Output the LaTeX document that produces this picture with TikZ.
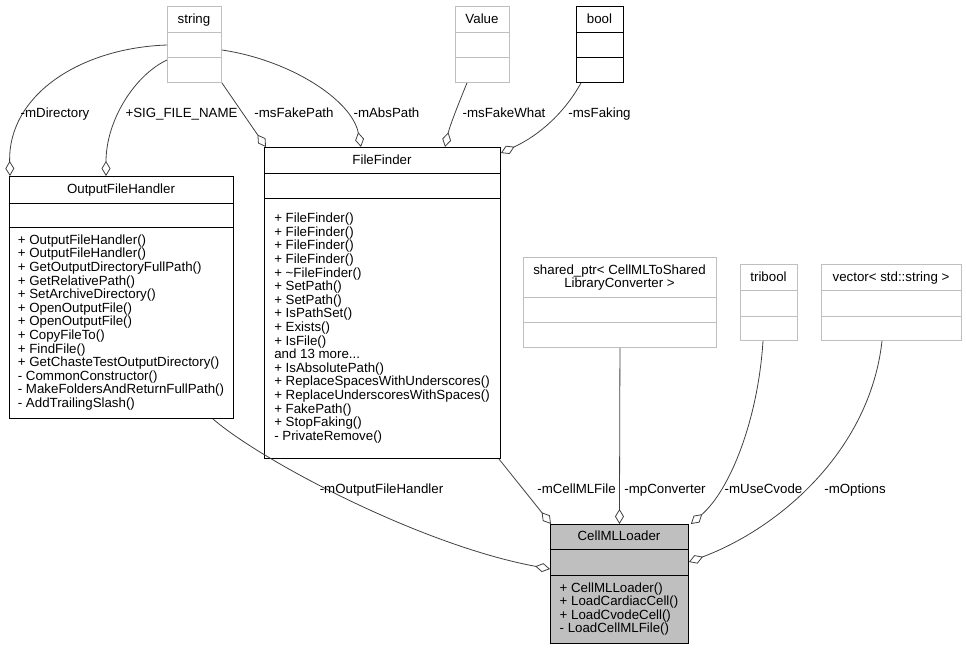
\documentclass[tikz,border=0pt]{standalone}
\usepackage{fontspec}
\setmainfont{Liberation Sans}
\usetikzlibrary{arrows.meta}
\definecolor{edgec}{HTML}{404040}
\definecolor{lgray}{HTML}{BFBFBF}
\definecolor{fillg}{HTML}{BFBFBF}
\begin{document}
\begin{tikzpicture}[x=1pt,y=-1pt,
  txt/.style={font=\fontsize{13.3}{13.6}\selectfont, inner sep=0pt, text=black},
  clsbox/.style={draw=black, line width=0.9pt, inner sep=0pt, anchor=north west},
  extbox/.style={clsbox, draw=lgray},
  rule/.style={line width=0.9pt},
  rel/.style={draw=edgec, line width=0.8pt, -{Diamond[open, length=15pt, width=9pt]}},
  lbl/.style={txt, anchor=base},
  ttl/.style={txt, anchor=base},
  meth/.style={txt, align=left, anchor=center}
]
\useasboundingbox (0,0) rectangle (966,651);

% ---------- string
\node[extbox, minimum width=54pt, minimum height=76pt] (string) at (167,6) {};
\draw[rule, lgray] (167,32) -- (221,32) (167,57) -- (221,57);
\node[ttl] (stringT) at (194,23) {string};

% ---------- Value
\node[extbox, minimum width=54pt, minimum height=76pt] (value) at (455,6) {};
\draw[rule, lgray] (455,32) -- (509,32) (455,57) -- (509,57);
\node[ttl] (valueT) at (482,23) {Value};

% ---------- bool
\node[clsbox, minimum width=47pt, minimum height=76pt] (bool) at (576,6) {};
\draw[rule] (576,32) -- (623,32) (576,57) -- (623,57);
\node[ttl] (boolT) at (599.5,23) {bool};

% ---------- OutputFileHandler
\node[clsbox, minimum width=224pt, minimum height=242pt] (ofh) at (9,176) {};
\draw[rule] (9,203) -- (233,203) (9,227) -- (233,227);
\node[ttl] (ofhT) at (121,193.5) {OutputFileHandler};
\node[meth] (ofhM) at (121,322.5) {+ OutputFileHandler()\\+ OutputFileHandler()\\+ GetOutputDirectoryFullPath()\\+ GetRelativePath()\\+ SetArchiveDirectory()\\+ OpenOutputFile()\\+ OpenOutputFile()\\+ CopyFileTo()\\+ FindFile()\\+ GetChasteTestOutputDirectory()\\- CommonConstructor()\\- MakeFoldersAndReturnFullPath()\\- AddTrailingSlash()};

% ---------- FileFinder
\node[clsbox, minimum width=236pt, minimum height=311pt] (ff) at (264,147) {};
\draw[rule] (264,173) -- (500,173) (264,198) -- (500,198);
\node[ttl] (ffT) at (382,164) {FileFinder};
\node[meth] (ffM) at (382,328) {+ FileFinder()\\+ FileFinder()\\+ FileFinder()\\+ FileFinder()\\+ \textasciitilde FileFinder()\\+ SetPath()\\+ SetPath()\\+ IsPathSet()\\+ Exists()\\+ IsFile()\\and 13 more...\\+ IsAbsolutePath()\\+ ReplaceSpacesWithUnderscores()\\+ ReplaceUnderscoresWithSpaces()\\+ FakePath()\\+ StopFaking()\\- PrivateRemove()};

% ---------- shared_ptr
\node[extbox, minimum width=193pt, minimum height=90pt] (sp) at (523,257) {};
\draw[rule, lgray] (523,297) -- (716,297) (523,322) -- (716,322);
\node[txt, align=center, anchor=center] (spT) at (619.5,277.5) {shared\_ptr< CellMLToShared\\LibraryConverter >};

% ---------- tribool
\node[extbox, minimum width=57pt, minimum height=76pt] (tri) at (740,264) {};
\draw[rule, lgray] (740,290) -- (797,290) (740,316) -- (797,316);
\node[ttl] (triT) at (768.5,281) {tribool};

% ---------- vector
\node[extbox, minimum width=140pt, minimum height=76pt] (vec) at (821,264) {};
\draw[rule, lgray] (821,290) -- (961,290) (821,316) -- (961,316);
\node[ttl] (vecT) at (891,281) {vector< std::string >};

% ---------- CellMLLoader
\node[clsbox, fill=fillg, minimum width=138pt, minimum height=119pt] (cml) at (550,524) {};
\draw[rule] (550,549) -- (688,549) (550,575) -- (688,575);
\node[ttl] (cmlT) at (619,540.5) {CellMLLoader};
\node[meth] (cmlM) at (619,609) {+ CellMLLoader()\\+ LoadCardiacCell()\\+ LoadCvodeCell()\\- LoadCellMLFile()};

% ---------- relations
\draw[rel] ([yshift=-39pt]string.north west) .. controls (80,48) and (8,95) .. ([xshift=1pt]ofh.north west);
\draw[rel] ([yshift=-54pt]string.north west) .. controls (135,75) and (106,120) .. ([xshift=97pt]ofh.north west);
\draw[rel] (string.south east) -- ([xshift=2pt]ff.north west);
\draw[rel] ([yshift=-44pt]string.north east) .. controls (290,60) and (352,100) .. ([xshift=97pt]ff.north west);
\draw[rel] ([xshift=12pt]value.south west) .. controls (460,100) and (450,125) .. ([xshift=181pt]ff.north west);
\draw[rel] ([xshift=5pt]bool.south west) .. controls (565,112) and (540,135) .. ([yshift=-6pt]ff.north east);
\draw[rel] ([xshift=-21pt]ofh.south east) .. controls (260,460) and (420,545) .. ([yshift=-45pt]cml.north west);
\draw[rel] ([xshift=-2pt]ff.south east) -- ([xshift=1pt]cml.north west);
\draw[rel] (sp.south) -- (cml.north);
\draw[rel] ([xshift=23pt]tri.south west) .. controls (758,420) and (730,490) .. ([xshift=2pt]cml.north east);
\draw[rel] ([xshift=61pt]vec.south west) .. controls (870,450) and (780,528) .. ([yshift=-38pt]cml.north east);

% ---------- labels
\node[lbl] (l1) at (55,117) {-mDirectory};
\node[lbl] (l2) at (181.5,117) {+SIG\_FILE\_NAME};
\node[lbl] (l3) at (294,117) {-msFakePath};
\node[lbl] (l4) at (386.5,117) {-mAbsPath};
\node[lbl] (l5) at (504,117) {-msFakeWhat};
\node[lbl] (l6) at (599.5,117) {-msFaking};
\node[lbl] (l7) at (381.5,493) {-mOutputFileHandler};
\node[lbl] (l8) at (576.5,493) {-mCellMLFile};
\node[lbl] (l9) at (665,493) {-mpConverter};
\node[lbl] (l10) at (763.5,493) {-mUseCvode};
\node[lbl] (l11) at (855,493) {-mOptions};
\end{tikzpicture}
\end{document}
